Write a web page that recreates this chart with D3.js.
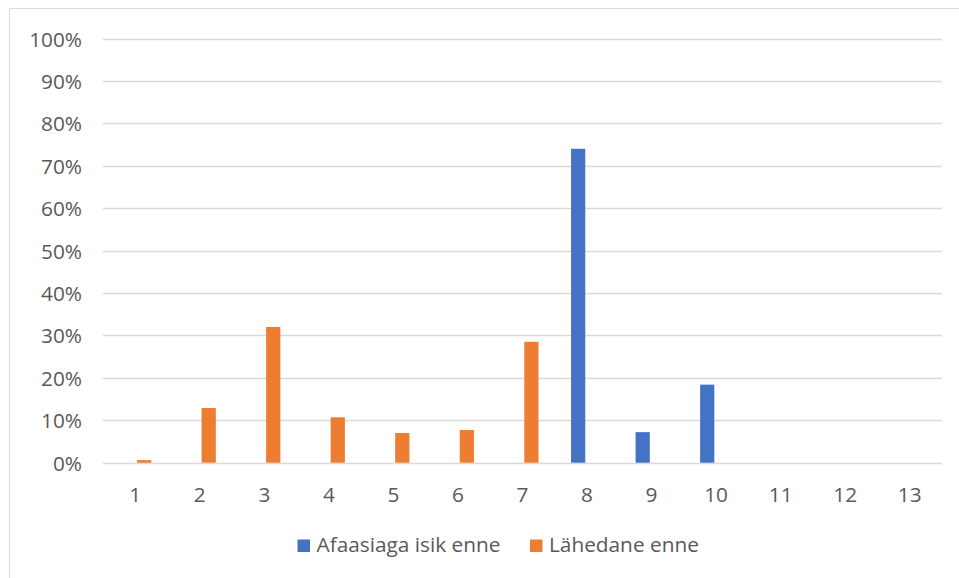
<!DOCTYPE html>
<html><head><meta charset="utf-8">
<script src="https://cdn.jsdelivr.net/npm/d3@7"></script>
<style>
html,body{margin:0;padding:0;background:#fff;}
svg text{font-family:"Open Sans",sans-serif;fill:#595959;}
</style></head>
<body><svg id="c" width="959" height="578"></svg>
<script>
const categories = ["1","2","3","4","5","6","7","8","9","10","11","12","13"];
const seriesNames = ["Afaasiaga isik enne","Lähedane enne"];
const afaasiagaIsik = [0,0,0,0,0,0,0,0.740,0.072,0.184,0,0,0];
const lahedane = [0.006,0.129,0.320,0.107,0.070,0.077,0.285,0,0,0,0,0,0];
const yTicks = [0,0.1,0.2,0.3,0.4,0.5,0.6,0.7,0.8,0.9,1.0];
const colors = ["#4472C4","#ED7D31"];

(function(){
const FS = 20.8;
const svg = d3.select("#c");
svg.append("rect").attr("x",9.5).attr("y",8.5).attr("width",1000).attr("height",1000)
  .attr("fill","none").attr("stroke","#d9d9d9").attr("stroke-width",1);

const pLeft=103, pRight=942, pTop=38.5, pBottom=462.7;
const x = d3.scaleBand().domain(categories).range([pLeft,pRight]).padding(0);
const y = d3.scaleLinear().domain([0,1]).range([pBottom,pTop]);
const x1 = d3.scaleBand().domain(seriesNames).range([-16,16]).paddingInner(0.2).paddingOuter(0);

svg.append("g").selectAll("line").data(yTicks).join("line")
  .attr("x1",pLeft).attr("x2",pRight)
  .attr("y1",d=>Math.round(y(d))+0.5).attr("y2",d=>Math.round(y(d))+0.5)
  .attr("stroke","#d9d9d9").attr("stroke-width",1.3);

const yAxis = d3.axisLeft(y).tickValues(yTicks).tickFormat(d3.format(".0%")).tickSize(0).tickPadding(0);
const gy = svg.append("g").attr("transform",`translate(82,0)`).call(yAxis);
gy.select(".domain").remove();
gy.selectAll("text").attr("font-size",FS).attr("dy","0.36em").style("font-family","'Open Sans',sans-serif").attr("fill","#595959");

const xAxis = d3.axisBottom(x).tickSize(0).tickPadding(0);
const gx = svg.append("g").attr("transform",`translate(0,501.5)`).call(xAxis);
gx.select(".domain").remove();
gx.selectAll("text").attr("font-size",FS).attr("y",0).attr("dy",0).style("font-family","'Open Sans',sans-serif").attr("fill","#595959");

const data = [afaasiagaIsik, lahedane];
data.forEach((vals,si)=>{
  const pts = vals.map((v,i)=>({c:categories[i],v})).filter(d=>d.v>0);
  svg.append("g").selectAll("rect").data(pts).join("rect")
    .attr("x",d=>x(d.c)+x.bandwidth()/2+x1(seriesNames[si]))
    .attr("width",x1.bandwidth())
    .attr("y",d=>y(d.v))
    .attr("height",d=>y(0)-y(d.v))
    .attr("fill",colors[si]);
});

const legendItems = [{name:seriesNames[0],x:297.5},{name:seriesNames[1],x:530}];
const lg = svg.append("g");
legendItems.forEach((it,i)=>{
  lg.append("rect").attr("x",it.x).attr("y",539.5).attr("width",12.5).attr("height",12.5).attr("fill",colors[i]);
  lg.append("text").attr("x",it.x+19).attr("y",551.7).attr("font-size",FS).text(it.name);
});
})();
</script></body></html>
